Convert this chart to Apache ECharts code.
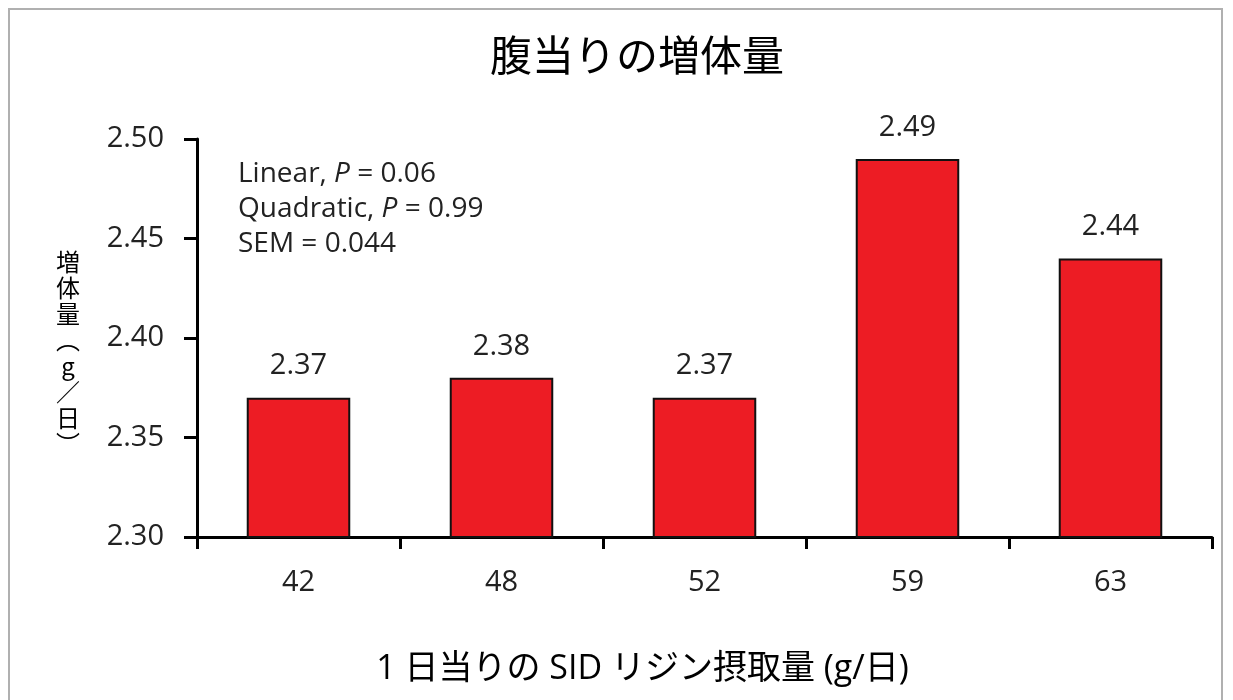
<!DOCTYPE html>
<html>
<head>
<meta charset="utf-8">
<script src="https://cdn.jsdelivr.net/npm/echarts@6/dist/echarts.min.js"></script>
<style>
  html, body { margin: 0; padding: 0; background: #fff; }
  #chart { width: 1233px; height: 700px; }
</style>
</head>
<body>
<div id="chart"></div>
<script>
// データ
const categories = ['42', '48', '52', '59', '63']
const gainValues = [2.37, 2.38, 2.37, 2.49, 2.44]
const yTicks = { min: 2.30, max: 2.50, step: 0.05 }
const titleText = '腹当りの増体量'
const yName = ['増', '体', '量', '︵', 'g', '／', '日', '︶']
const xName = '1 日当りの SID リジン摂取量 (g/日)'
const statLines = [
  ['Linear, ', 'P', ' = 0.06'],
  ['Quadratic, ', 'P', ' = 0.99'],
  ['SEM = 0.044']
]

const latin = '"Open Sans", "Noto Sans CJK JP", sans-serif'
const cjk = '"Noto Sans CJK JP", sans-serif'

const chart = echarts.init(document.getElementById('chart'))

// P だけ斜体にする
const statText = statLines.map(l =>
  l.map((s, i) => (l.length === 3 && i === 1) ? '{i|' + s + '}' : '{n|' + s + '}').join('')
).join('\n')

const option = {
  backgroundColor: '#fff',
  animation: false,
  title: {
    text: titleText,
    left: 485,
    top: 29,
    textStyle: { fontFamily: cjk, fontSize: 42, fontWeight: 'normal', color: '#000' }
  },
  grid: { left: 197, right: 21, top: 139, bottom: 163, outerBoundsMode: 'none' },
  xAxis: {
    type: 'category',
    data: categories,
    axisLine: { lineStyle: { color: '#000', width: 3 } },
    axisTick: { show: true, length: 12, lineStyle: { color: '#000', width: 3 } },
    axisLabel: { fontFamily: latin, fontSize: 29, color: '#222', margin: 31 },
    name: xName,
    nameLocation: 'middle',
    nameGap: 115,
    nameTextStyle: { fontFamily: latin, fontSize: 34, color: '#000', padding: [0, 124, 0, 0] }
  },
  yAxis: {
    type: 'value',
    min: yTicks.min,
    max: yTicks.max,
    interval: yTicks.step,
    splitLine: { show: false },
    axisLine: { show: true, lineStyle: { color: '#000', width: 3 } },
    axisTick: { show: true, length: 13, lineStyle: { color: '#000', width: 3 } },
    axisLabel: {
      fontFamily: latin, fontSize: 29, color: '#222', margin: 33,
      formatter: v => v.toFixed(2)
    }
  },
  graphic: [
    {
      type: 'rect',
      shape: { x: 9, y: 9, width: 1213, height: 720 },
      style: { fill: 'none', stroke: '#b0b0b0', lineWidth: 2 },
      silent: true
    },
    {
      // 縦書きの軸名
      type: 'text',
      x: 68,
      y: 249,
      style: {
        text: yName.join('\n'),
        align: 'center',
        verticalAlign: 'top',
        fontFamily: cjk,
        fontSize: 24,
        lineHeight: 26,
        fill: '#000'
      }
    },
    {
      type: 'text',
      left: 238,
      top: 160,
      style: {
        text: statText,
        rich: {
          n: { fontFamily: latin, fontSize: 28, lineHeight: 35, fill: '#222' },
          i: { fontFamily: latin, fontSize: 28, lineHeight: 35, fontStyle: 'italic', fill: '#222' }
        }
      }
    }
  ],
  series: [
    {
      type: 'bar',
      data: gainValues,
      barWidth: '51%',
      itemStyle: { color: '#ED1C24', borderColor: '#111', borderWidth: 2 },
      label: {
        show: true,
        position: 'top',
        distance: 17,
        fontFamily: latin,
        fontSize: 29,
        color: '#222',
        formatter: p => p.value.toFixed(2)
      }
    }
  ]
}

chart.setOption(option)
</script>
</body>
</html>
